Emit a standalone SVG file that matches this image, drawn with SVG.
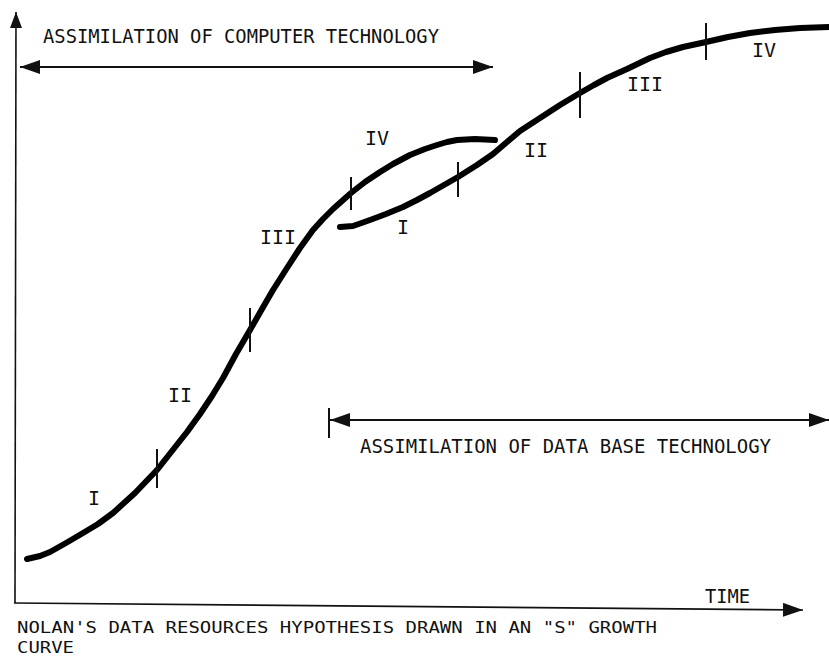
<svg xmlns="http://www.w3.org/2000/svg" width="829" height="657" viewBox="0 0 829 657">
  <style>
    .txt { font-family: "DejaVu Sans Mono", "Liberation Mono", monospace; font-size: 20px; fill: #111; }
    .cap { font-family: "DejaVu Sans Mono", "Liberation Mono", monospace; font-size: 16.5px; fill: #111; }
    .num { font-family: "DejaVu Sans Mono", "Liberation Mono", monospace; font-size: 20px; fill: #111; text-anchor: middle; }
    .axis { stroke: #111; stroke-width: 1.6; fill: none; }
    .arr { stroke: #111; stroke-width: 2; fill: none; }
    .curve { stroke: #000; stroke-width: 6; fill: none; stroke-linecap: round; stroke-linejoin: round; }
    .tick { stroke: #111; stroke-width: 2; }
  </style>
  <defs>
    <marker id="ah" viewBox="0 0 20 14" refX="20" refY="7" markerWidth="20" markerHeight="14" markerUnits="userSpaceOnUse" orient="auto-start-reverse">
      <path d="M0,0 L20,7 L0,14 z" fill="#111"/>
    </marker>
    <marker id="ahs" viewBox="0 0 16 12" refX="16" refY="6" markerWidth="16" markerHeight="12" markerUnits="userSpaceOnUse" orient="auto">
      <path d="M0,0 L16,6 L0,12 z" fill="#111"/>
    </marker>
  </defs>

  <g id="axes">
    <line class="axis" x1="15" y1="603" x2="16" y2="12" marker-end="url(#ahs)"/>
    <line class="axis" x1="14" y1="603" x2="803" y2="610" marker-end="url(#ah)"/>
    <text class="txt" x="705" y="603" textLength="45" lengthAdjust="spacingAndGlyphs">TIME</text>
  </g>

  <g id="connectors">
    <g id="computer-span">
      <line class="arr" x1="20" y1="67" x2="493" y2="67" marker-start="url(#ah)" marker-end="url(#ah)"/>
      <text class="txt" x="43" y="43" textLength="396" lengthAdjust="spacingAndGlyphs">ASSIMILATION OF COMPUTER TECHNOLOGY</text>
    </g>
    <g id="database-span">
      <line class="tick" x1="329" y1="408" x2="329" y2="438"/>
      <line class="arr" x1="330" y1="420" x2="829" y2="420" marker-start="url(#ah)" marker-end="url(#ah)"/>
      <text class="txt" x="360" y="453" textLength="411" lengthAdjust="spacingAndGlyphs">ASSIMILATION OF DATA BASE TECHNOLOGY</text>
    </g>
  </g>

  <g id="curve-computer">
    <path class="curve" d="M27,559 L40,556 L50,552 L66,543 L83,533 L98,524 L113,513 L135,493 L157,470 L172,451 L187,432 L200,414 L212,396 L223,378 L236,354 L250,330 L262,309 L273,290 L287,268 L300,248 L313,230 L323,219 L333,209 L342,201 L351,193 L365,182 L380,172 L393,164 L410,155 L425,149 L437,145 L447,142 L457,140 L475,139 L495,140"/>
    <line class="tick" x1="157" y1="449" x2="157" y2="488"/>
    <line class="tick" x1="250" y1="308" x2="250" y2="352"/>
    <line class="tick" x1="351" y1="177" x2="351" y2="210"/>
    <text class="num" x="94" y="505">I</text>
    <text class="num" x="180" y="402">II</text>
    <text class="num" x="278" y="244">III</text>
    <text class="num" x="377" y="145">IV</text>
  </g>

  <g id="curve-database">
    <path class="curve" d="M340,227 L353,226 L370,220 L386,214 L403,207 L417,200 L430,193 L444,185 L458,177 L477,165 L493,154 L507,142 L520,131 L540,118 L560,105 L580,93 L594,85 L607,78 L627,69 L650,58 L666,52 L683,47 L706,42 L728,37 L750,33 L775,30 L800,28 L829,27"/>
    <line class="tick" x1="458" y1="162" x2="458" y2="197"/>
    <line class="tick" x1="580" y1="72" x2="580" y2="118"/>
    <line class="tick" x1="706" y1="23" x2="706" y2="60"/>
    <text class="num" x="403" y="234">I</text>
    <text class="num" x="536" y="157">II</text>
    <text class="num" x="645" y="91">III</text>
    <text class="num" x="764" y="57">IV</text>
  </g>

  <g id="caption">
    <text class="cap" x="17" y="633" textLength="640" lengthAdjust="spacingAndGlyphs">NOLAN'S DATA RESOURCES HYPOTHESIS DRAWN IN AN "S" GROWTH</text>
    <text class="cap" x="17" y="652.5" textLength="57" lengthAdjust="spacingAndGlyphs">CURVE</text>
  </g>
</svg>
